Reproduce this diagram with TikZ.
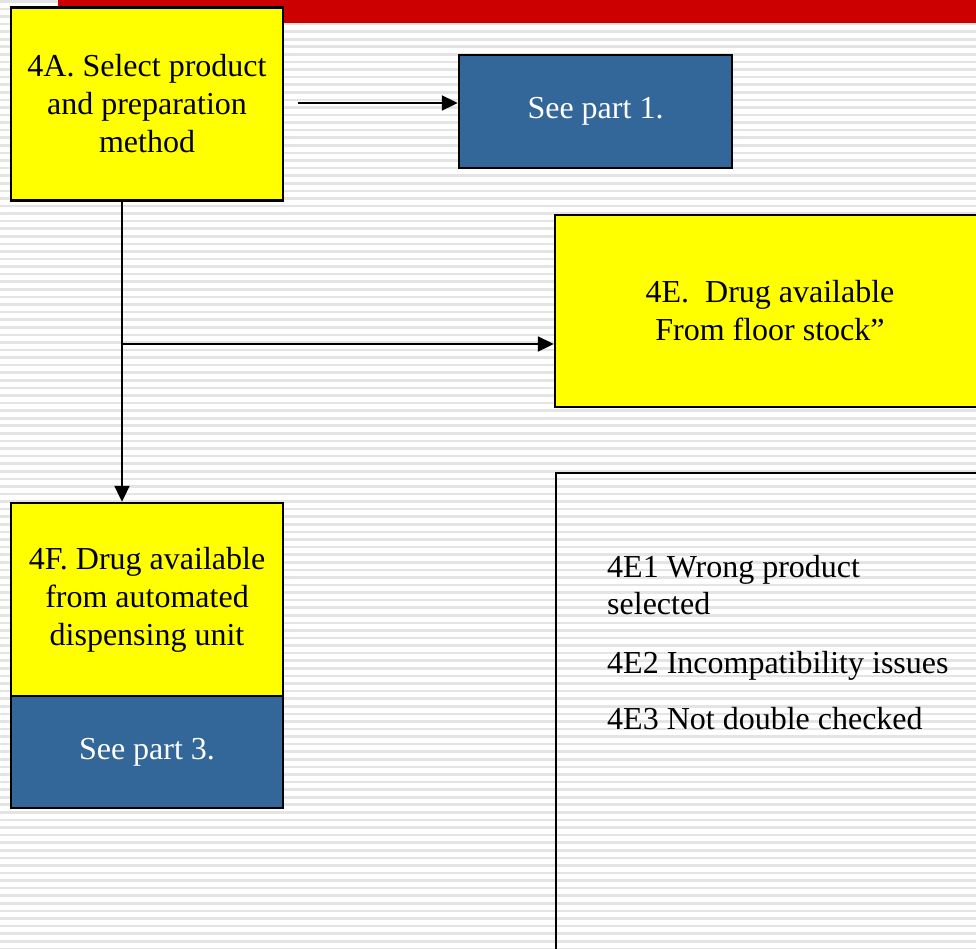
\documentclass[tikz,border=0pt]{standalone}
\usepackage{fontspec}
\setmainfont{Liberation Serif}
\usetikzlibrary{arrows.meta}
\definecolor{boxyellow}{HTML}{FFFF00}
\definecolor{boxblue}{HTML}{336699}
\definecolor{barred}{HTML}{CC0000}
\definecolor{stripe}{HTML}{E4E4E4}
\tikzset{
  box/.style={draw=black, line width=2.4pt, rectangle, inner sep=0pt, align=center,
    font=\fontsize{32}{38}\selectfont},
  ybox/.style={box, fill=boxyellow, text=black},
  bbox/.style={box, fill=boxblue, text=white},
  listtxt/.style={anchor=base west, inner sep=0pt, align=left, font=\fontsize{32}{37}\selectfont},
  arr/.style={line width=2pt, -{Triangle[length=16pt,width=15pt]}}
}
\begin{document}
\begin{tikzpicture}[x=1pt,y=-1pt]
\useasboundingbox (0,0) rectangle (976,948);
\clip (0,0) rectangle (976,948);
\fill[white] (0,0) rectangle (976,948);
\foreach \k in {0,...,125} {
  \fill[stripe] (0,{\k*7.58}) rectangle (976,{\k*7.58+2.6});
}
\fill[barred] (58,0) rectangle (976,23);

\node[ybox, minimum width=272pt, minimum height=193pt] (A) at (147,104)
  {4A. Select product\\and preparation\\method};
\node[bbox, minimum width=273pt, minimum height=113pt] (P1) at (595.5,111.5)
  {See part 1.};
\node[ybox, minimum width=430pt, minimum height=192pt] (E) at (770,311)
  {4E.\ \ Drug available\\From floor stock”};
\node[ybox, minimum width=272pt, minimum height=193pt] (F) at (147,599.5)
  {4F. Drug available\\from automated\\dispensing unit};
\node[bbox, minimum width=272pt, minimum height=112pt] (P3) at (147,752)
  {See part 3.};
\node[box, minimum width=460pt, minimum height=540pt, anchor=north west] (L) at (555,472) {};

\node[listtxt] (L1) at (607,614) {4E1 Wrong product\\selected};
\node[listtxt] (L2) at (607,673) {4E2 Incompatibility issues};
\node[listtxt] (L3) at (607,729) {4E3 Not double checked};

\coordinate (s1) at (298,103);
\coordinate (v) at (122,344);
\draw[arr] (s1) -- (s1 -| P1.west);
\draw[line width=2pt] (A.south -| v) -- (v);
\draw[arr] (v) -- (F.north -| v);
\draw[arr] (v) -- (v -| E.west);
\end{tikzpicture}
\end{document}
